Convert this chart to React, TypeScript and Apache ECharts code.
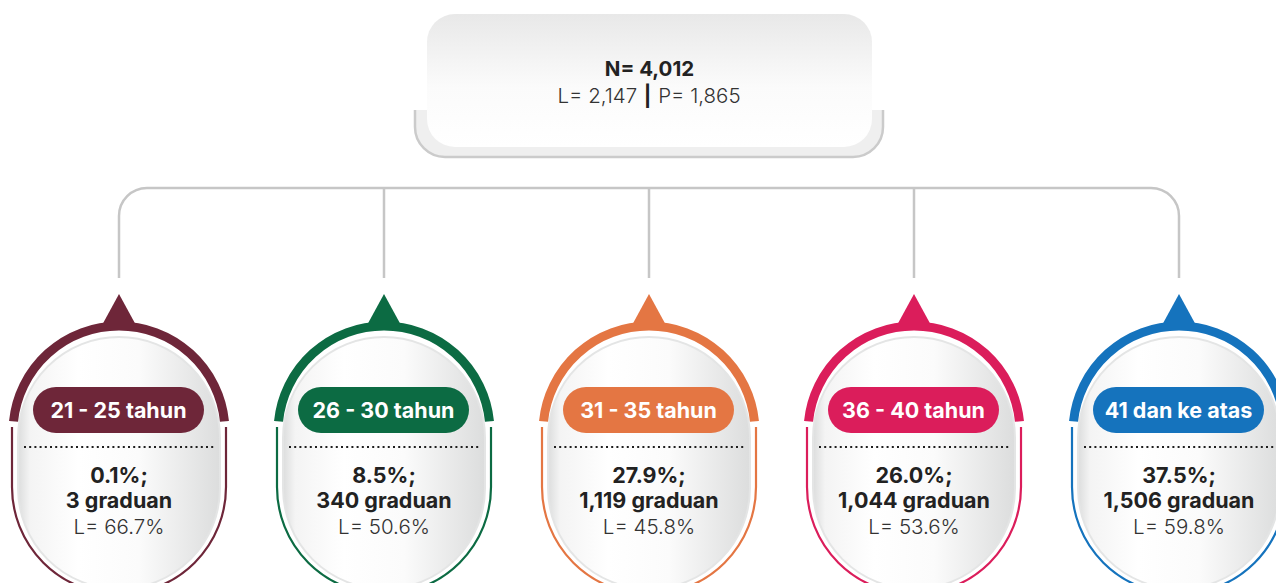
import React, { useEffect, useRef } from "react";
import * as echarts from "echarts";

// ---- data ----
const totalN = 4012;
const totalL = 2147;
const totalP = 1865;

const ageGroups = ["21 - 25 tahun", "26 - 30 tahun", "31 - 35 tahun", "36 - 40 tahun", "41 dan ke atas"];
const sharePct = [0.1, 8.5, 27.9, 26.0, 37.5];
const graduates = [3, 340, 1119, 1044, 1506];
const malePct = [66.7, 50.6, 45.8, 53.6, 59.8];

// ---- styles ----
const palette = ["#6e2639", "#0c6b43", "#e47643", "#db1d5b", "#1573bd"];
const FONT = "Inter, 'Noto Sans', sans-serif";
const LINE_GRAY = "#c6c6c6";
const TEXT_DARK = "#222222";

const fmt = (n: number) => n.toLocaleString("en-US");

export default function App() {
  const ref = useRef<HTMLDivElement>(null);

  useEffect(() => {
    if (!ref.current) return;
    const chart = echarts.init(ref.current, undefined, { renderer: "svg" });
    const n = ageGroups.length;
    const BUS_Y = 188;
    const CORNER = 28;
    const STEM_END = 278;
    const ARC_CY = 432;

    const renderItem = (params: any, api: any) => {
      const i = params.dataIndex;
      const [cx] = api.coord([api.value(0), 0]);
      const color = palette[i];
      const children: any[] = [];
      const lineStyle = { stroke: LINE_GRAY, lineWidth: 2.5, fill: "none" };

      // tree connectors
      if (i === 0) {
        children.push({ type: "line", shape: { x1: cx, y1: BUS_Y + CORNER, x2: cx, y2: STEM_END }, style: lineStyle });
        children.push({
          type: "arc",
          shape: { cx: cx + CORNER, cy: BUS_Y + CORNER, r: CORNER, startAngle: Math.PI, endAngle: Math.PI * 1.5, clockwise: true },
          style: lineStyle,
        });
      } else if (i === n - 1) {
        children.push({ type: "line", shape: { x1: cx, y1: BUS_Y + CORNER, x2: cx, y2: STEM_END }, style: lineStyle });
        children.push({
          type: "arc",
          shape: { cx: cx - CORNER, cy: BUS_Y + CORNER, r: CORNER, startAngle: Math.PI * 1.5, endAngle: Math.PI * 2, clockwise: true },
          style: lineStyle,
        });
      } else {
        children.push({ type: "line", shape: { x1: cx, y1: BUS_Y, x2: cx, y2: STEM_END }, style: lineStyle });
      }
      if (i < n - 1) {
        const [nx] = api.coord([i + 1, 0]);
        children.push({
          type: "line",
          shape: { x1: i === 0 ? cx + CORNER : cx, y1: BUS_Y, x2: i + 1 === n - 1 ? nx - CORNER : nx, y2: BUS_Y },
          style: lineStyle,
        });
      }

      // inner fill capsule
      children.push({
        type: "rect",
        shape: { x: cx - 101, y: 337, width: 202, height: 252, r: 101 },
        style: {
          fill: new echarts.graphic.LinearGradient(0, 0, 1, 0, [
            { offset: 0, color: "#dcdddd" },
            { offset: 0.06, color: "#f4f4f4" },
            { offset: 0.3, color: "#ffffff" },
            { offset: 0.6, color: "#fbfbfb" },
            { offset: 1, color: "#dcdddd" },
          ]),
          stroke: "#e4e5e5",
          lineWidth: 2,
        },
      });

      // thin outline (sides + bottom)
      const thin = { stroke: color, lineWidth: 2.2, fill: "none" };
      const R_THIN = 107;
      const BOT_CY = 487;
      children.push({ type: "line", shape: { x1: cx - R_THIN, y1: 427, x2: cx - R_THIN, y2: BOT_CY }, style: thin });
      children.push({ type: "line", shape: { x1: cx + R_THIN, y1: 427, x2: cx + R_THIN, y2: BOT_CY }, style: thin });
      children.push({
        type: "arc",
        shape: { cx, cy: BOT_CY, r: R_THIN, startAngle: 0, endAngle: Math.PI, clockwise: true },
        style: thin,
      });

      // thick top arc
      children.push({
        type: "arc",
        shape: { cx, cy: ARC_CY, r: 106, startAngle: Math.PI + 0.1, endAngle: Math.PI * 2 - 0.1, clockwise: true },
        style: { stroke: color, lineWidth: 9, fill: "none", lineCap: "butt" },
      });

      // pointer triangle
      children.push({
        type: "polygon",
        shape: { points: [[cx, 294], [cx + 18, 327], [cx - 18, 327]] },
        style: { fill: color },
      });

      // label pill
      children.push({
        type: "rect",
        shape: { x: cx - 86, y: 387, width: 171, height: 46, r: 23 },
        style: { fill: color },
      });
      children.push({
        type: "text",
        style: {
          text: ageGroups[i],
          x: cx - 0.5,
          y: 410,
          fill: "#ffffff",
          fontSize: 21.5,
          fontWeight: "bold",
          fontFamily: FONT,
          align: "center",
          verticalAlign: "middle",
        },
      });

      // dotted separator
      children.push({
        type: "line",
        shape: { x1: cx - 95, y1: 447, x2: cx + 96, y2: 447 },
        style: { stroke: "#1e1e1e", lineWidth: 2, lineDash: [2, 3.2] },
      });

      // values
      children.push({
        type: "text",
        style: {
          text: `${sharePct[i].toFixed(1)}%;`,
          x: cx,
          y: 475,
          fill: TEXT_DARK,
          fontSize: 21.5,
          fontWeight: "bold",
          fontFamily: FONT,
          align: "center",
          verticalAlign: "middle",
        },
      });
      children.push({
        type: "text",
        style: {
          text: `${fmt(graduates[i])} graduan`,
          x: cx,
          y: 500,
          fill: TEXT_DARK,
          fontSize: 21.5,
          fontWeight: "bold",
          fontFamily: FONT,
          align: "center",
          verticalAlign: "middle",
        },
      });
      children.push({
        type: "text",
        style: {
          text: `L= ${malePct[i].toFixed(1)}%`,
          x: cx,
          y: 526,
          fill: "#333333",
          fontSize: 20.5,
          fontWeight: 300,
          fontFamily: FONT,
          align: "center",
          verticalAlign: "middle",
        },
      });

      return { type: "group", children };
    };

    chart.setOption({
      animation: false,
      backgroundColor: "#ffffff",
      grid: { left: 119, right: 97, top: 0, bottom: 0 },
      xAxis: { type: "category", data: ageGroups, boundaryGap: false, show: false },
      yAxis: { type: "value", min: 0, max: 1, show: false },
      graphic: [
        {
          type: "rect",
          shape: { x: 415, y: 60, width: 468, height: 97, r: 30 },
          style: { fill: "#efefef", stroke: "#cbcbcb", lineWidth: 2.5 },
          z: 1,
        },
        {
          type: "rect",
          shape: { x: 405, y: 30, width: 490, height: 80 },
          style: { fill: "#ffffff" },
          z: 2,
        },
        {
          type: "rect",
          shape: { x: 427, y: 14, width: 445, height: 133, r: 28 },
          style: {
            fill: new echarts.graphic.LinearGradient(0, 0, 0, 1, [
              { offset: 0, color: "#e8e8e8" },
              { offset: 0.55, color: "#fbfbfb" },
              { offset: 1, color: "#ffffff" },
            ]),
          },
          z: 3,
        },
        {
          type: "text",
          z: 4,
          style: {
            text: `N= ${fmt(totalN)}`,
            x: 649.5,
            y: 68,
            fill: TEXT_DARK,
            fontSize: 20.5,
            fontWeight: "bold",
            fontFamily: FONT,
            align: "center",
            verticalAlign: "middle",
          },
        },
        {
          type: "text",
          z: 4,
          style: {
            text: `{a|L= ${fmt(totalL)}}  {b||}  {a|P= ${fmt(totalP)}}`,
            x: 649,
            y: 95,
            align: "center",
            verticalAlign: "middle",
            rich: {
              a: { fontSize: 20.5, fontWeight: 300, fontFamily: FONT, fill: "#333333" },
              b: { fontSize: 20.5, fontWeight: "bold", fontFamily: FONT, fill: TEXT_DARK },
            },
          },
        },
      ],
      series: [
        {
          type: "custom",
          clip: false,
          renderItem,
          data: ageGroups.map((_, i) => [i, 0]),
          silent: true,
        },
      ],
    });

    return () => chart.dispose();
  }, []);

  return <div ref={ref} style={{ position: "fixed", left: 0, top: 0, width: 1276, height: 583 }} />;
}
